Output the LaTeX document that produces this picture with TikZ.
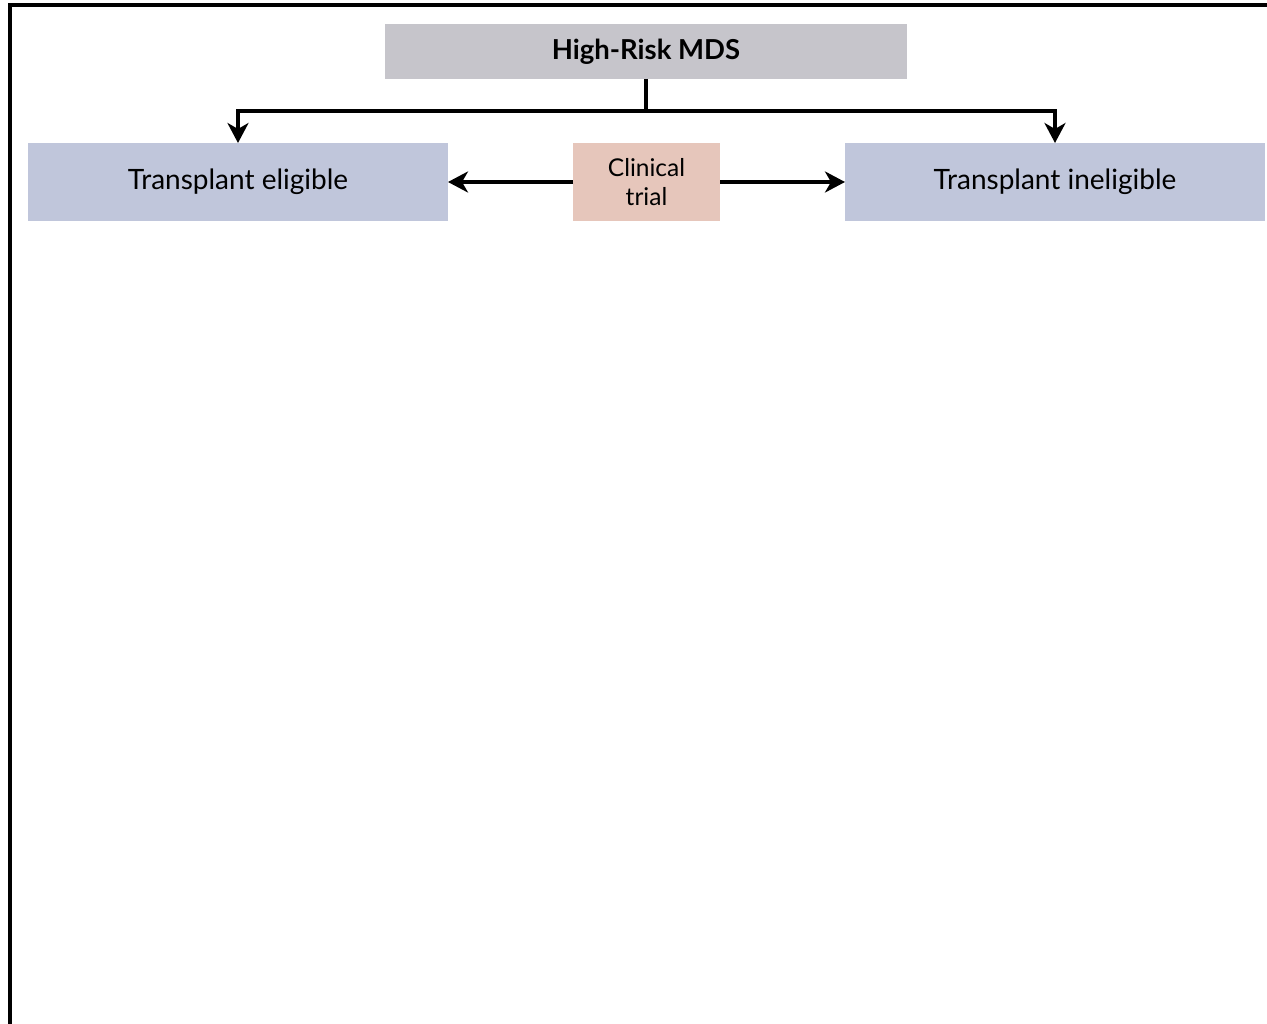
\documentclass[tikz,border=0pt]{standalone}
\usepackage{fontspec}
\setmainfont{Lato}
\usetikzlibrary{arrows.meta}
\definecolor{topgray}{HTML}{C6C5CB}
\definecolor{sidegray}{HTML}{C0C6DB}
\definecolor{trialpink}{HTML}{E6C6BB}
\begin{document}
\begin{tikzpicture}[x=1pt,y=-1pt,
  box/.style={inner sep=0pt, outer sep=0pt, anchor=north west, align=center},
  link/.style={line width=3.4pt, black},
  tip/.style={-{Stealth[length=20pt,width=21pt,inset=6pt]}}]
  \useasboundingbox (0,0) rectangle (1267,1024);
  \fill[white] (0,0) rectangle (1267,1024);
  % partial frame: top and left edges
  \draw[line width=4pt] (10,1024) -- (10,5.5) -- (1267,5.5);
  % boxes
  \node[box, fill=topgray, minimum width=522pt, minimum height=55pt, font=\fontsize{27.5}{30}\selectfont\bfseries] (mds) at (385,24) {High-Risk MDS};
  \node[box, fill=sidegray, minimum width=420pt, minimum height=78pt, font=\fontsize{28}{30}\selectfont] (elig) at (28,143) {Transplant eligible};
  \node[box, fill=sidegray, minimum width=420pt, minimum height=78pt, font=\fontsize{28}{30}\selectfont] (inel) at (845,143) {Transplant ineligible};
  \node[box, fill=trialpink, minimum width=147pt, minimum height=78pt, font=\fontsize{24.5}{29}\selectfont] (trial) at (573,143) {Clinical\\trial};
  % connectors
  \coordinate (split) at (mds.south |- 0,111);
  \draw[link] (mds.south) -- (split);
  \draw[link, tip] (split) -| (elig.north);
  \draw[link, tip] (split) -| (inel.north);
  \draw[link, tip] (trial.west) -- (elig.east);
  \draw[link, tip] (trial.east) -- (inel.west);
\end{tikzpicture}
\end{document}
